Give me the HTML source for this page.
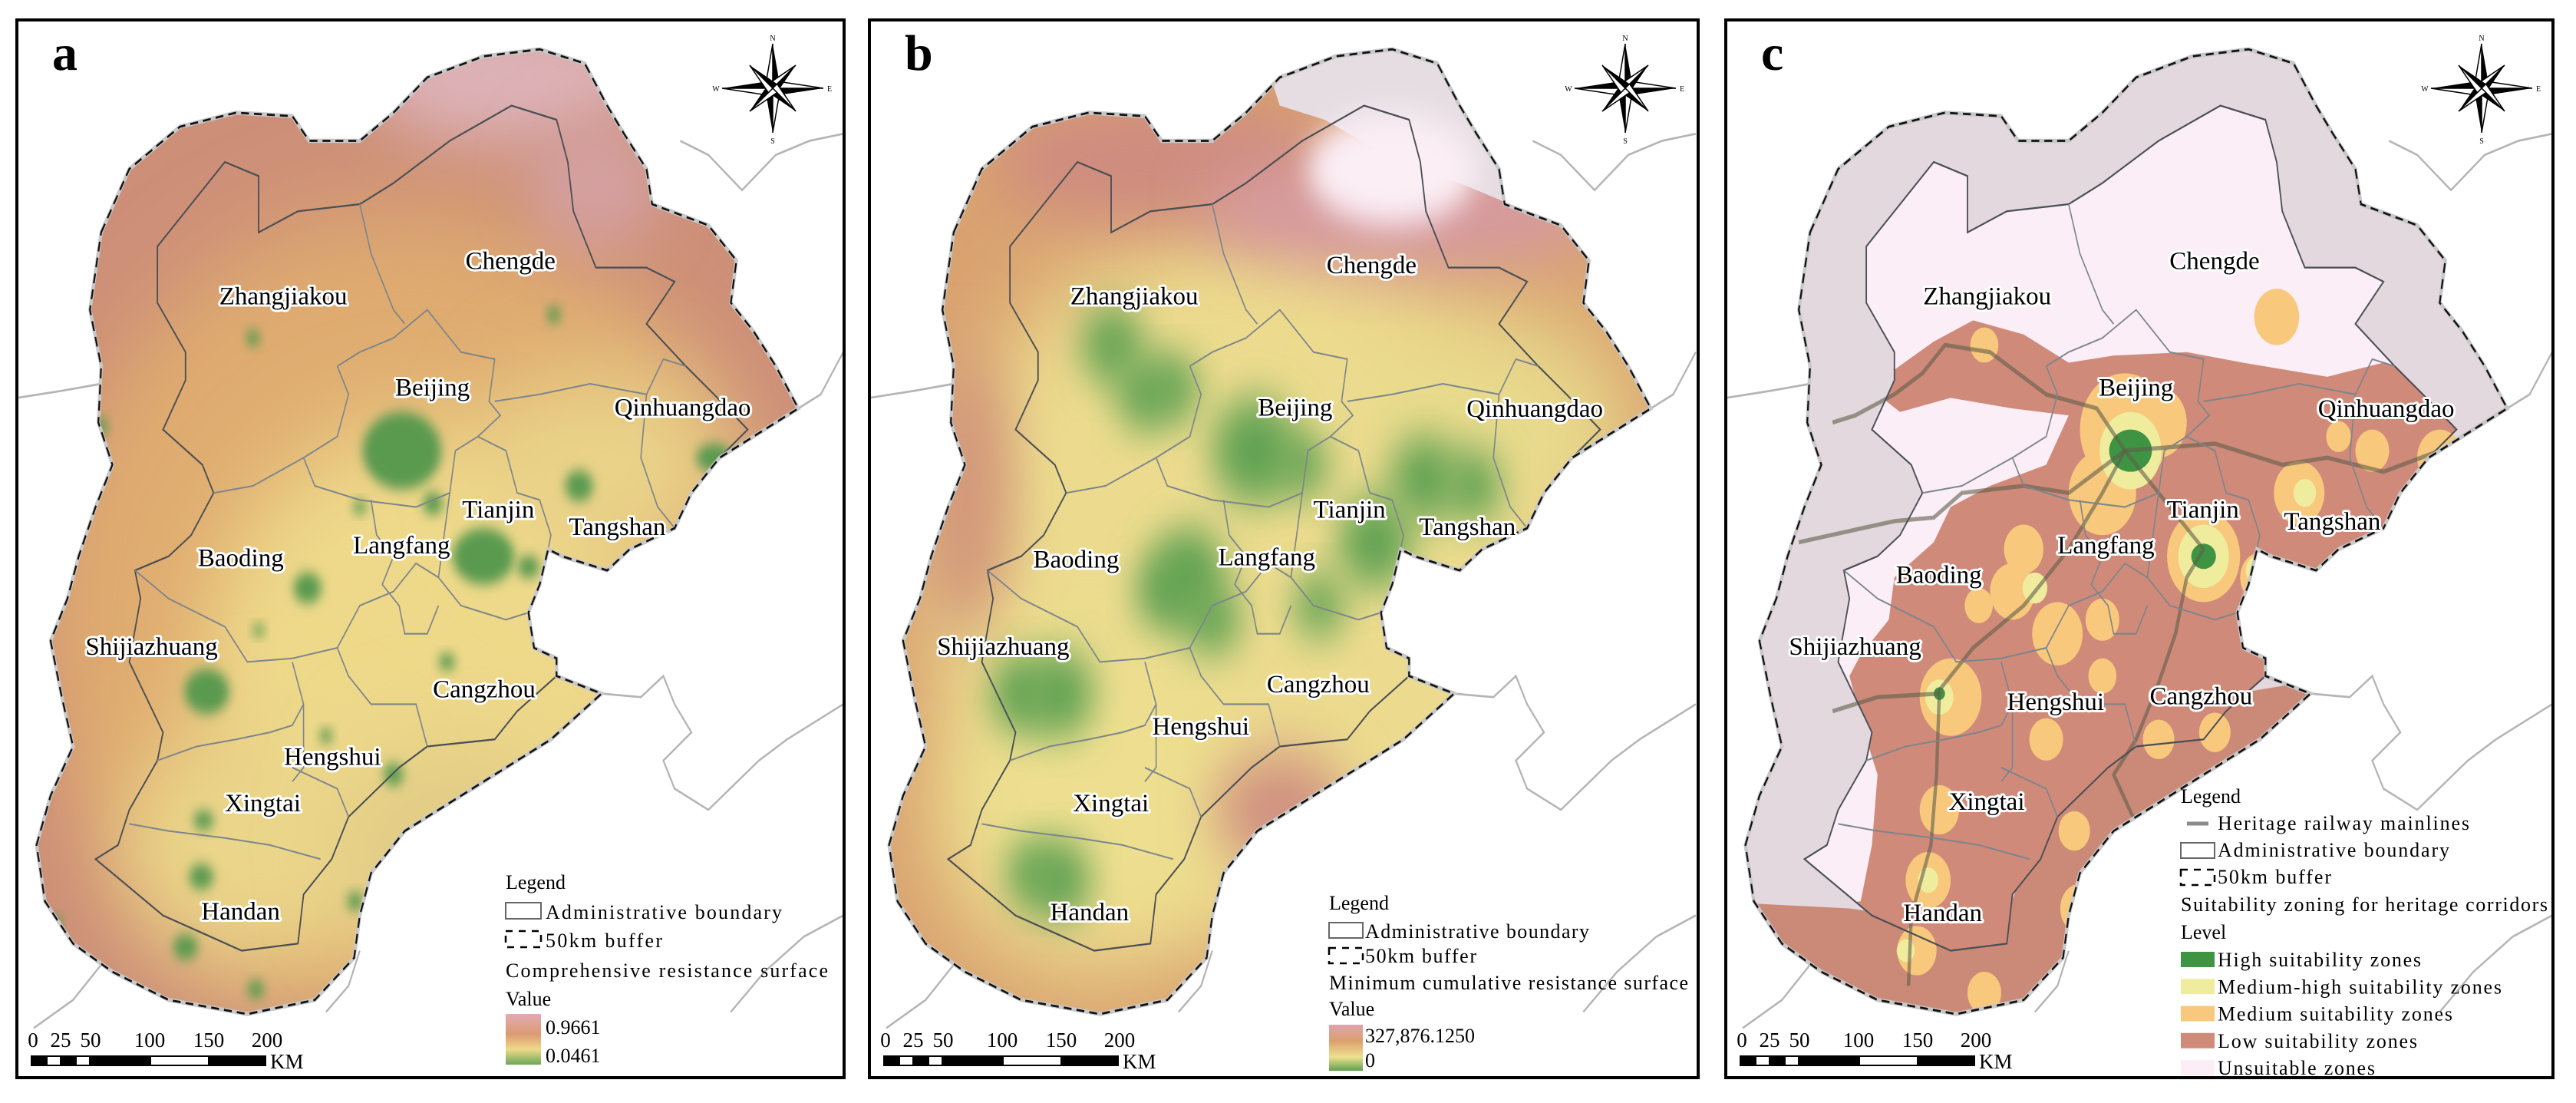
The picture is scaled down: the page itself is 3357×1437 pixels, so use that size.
<!DOCTYPE html>
<html><head><meta charset="utf-8"><style>
html,body{margin:0;padding:0;background:#fff;}
svg{display:block;font-family:"Liberation Serif",serif;}
.lbl{font-size:33px;fill:#000;stroke:#fff;stroke-width:6px;paint-order:stroke;stroke-linejoin:round;}
.leg{font-size:26px;fill:#000;}
.num{font-size:27px;fill:#000;}
</style></head><body>
<svg id="fig" width="3357" height="1437" viewBox="0 0 3357 1437" xmlns="http://www.w3.org/2000/svg">
<defs>
<filter id="b8" x="-50%" y="-50%" width="200%" height="200%"><feGaussianBlur stdDeviation="9"/></filter>
<filter id="b20" x="-50%" y="-50%" width="200%" height="200%"><feGaussianBlur stdDeviation="22"/></filter>
<filter id="b35" x="-50%" y="-50%" width="200%" height="200%"><feGaussianBlur stdDeviation="30"/></filter>
<filter id="b45" x="-50%" y="-50%" width="200%" height="200%"><feGaussianBlur stdDeviation="45"/></filter>
<filter id="b70" x="-50%" y="-50%" width="200%" height="200%"><feGaussianBlur stdDeviation="70"/></filter>
<clipPath id="bufClip" clipPathUnits="userSpaceOnUse"><polygon id="bufPolyClip"/></clipPath>
<clipPath id="provClip" clipPathUnits="userSpaceOnUse"><polygon id="provPolyClip"/></clipPath>
<linearGradient id="gradA" x1="0" y1="0" x2="0" y2="1"><stop offset="0" stop-color="#e2aab4"/><stop offset="0.4" stop-color="#dc9b72"/><stop offset="0.7" stop-color="#efd98a"/><stop offset="1" stop-color="#6aa858"/></linearGradient>
<linearGradient id="gradB" x1="0" y1="0" x2="0" y2="1"><stop offset="0" stop-color="#e0a3ad"/><stop offset="0.35" stop-color="#dba06e"/><stop offset="0.7" stop-color="#eee08e"/><stop offset="1" stop-color="#5fa052"/></linearGradient>
</defs>
</svg>
<script>
const NS='http://www.w3.org/2000/svg';
const svg=document.getElementById('fig');
function mk(tag,attrs,parent){const e=document.createElementNS(NS,tag);for(const k in attrs)e.setAttribute(k,attrs[k]);(parent||svg).appendChild(e);return e;}
const pts=a=>a.map(p=>p.join(',')).join(' ');

const bufferPts=[[180,330],[230,240],[320,180],[420,160],[520,165],[550,200],[640,200],[700,160],[760,110],[860,80],[960,70],[1040,90],[1080,150],[1110,190],[1150,240],[1160,290],[1260,320],[1310,370],[1300,430],[1340,470],[1380,520],[1420,580],[1340,620],[1280,650],[1230,700],[1200,750],[1120,780],[1080,810],[1000,790],[975,780],[960,830],[940,870],[950,920],[990,935],[990,960],[1070,985],[980,1050],[900,1090],[800,1140],[720,1180],[660,1240],[640,1300],[630,1360],[560,1420],[440,1440],[300,1420],[200,1380],[130,1340],[80,1280],[65,1200],[90,1130],[130,1060],[110,990],[90,910],[120,850],[140,790],[170,720],[200,660],[175,600],[180,520],[160,440]];
const provPts=[[280,350],[400,230],[460,250],[460,330],[530,300],[640,290],[700,260],[800,200],[910,150],[990,170],[1010,230],[1020,300],[1060,380],[1150,380],[1200,400],[1150,460],[1220,520],[1270,560],[1330,610],[1280,650],[1230,700],[1200,750],[1120,780],[1080,810],[1000,790],[975,780],[960,830],[940,870],[950,920],[990,935],[990,960],[920,1010],[880,1050],[760,1060],[710,1090],[620,1160],[590,1220],[540,1270],[530,1340],[430,1350],[290,1300],[170,1220],[210,1200],[230,1150],[280,1080],[290,1040],[230,940],[250,850],[240,810],[300,790],[340,760],[380,700],[360,660],[290,610],[330,540],[330,500],[280,430]];
const innerLines=[
[[640,290],[660,360],[700,440],[720,460]],
[[600,520],[640,500],[700,480],[760,440],[820,500],[880,510],[870,570],[890,590],[850,620],[810,640],[800,700],[740,720],[640,710],[560,690],[540,650],[600,620],[620,560],[600,520]],
[[880,570],[960,560],[1050,545],[1150,560],[1180,510],[1220,520]],
[[850,620],[900,640],[920,700],[960,710],[980,760],[975,780]],
[[800,700],[790,760],[780,820],[820,860],[900,880],[940,870]],
[[1150,560],[1140,650],[1170,720],[1200,750]],
[[380,700],[450,690],[540,650]],
[[240,810],[300,850],[400,890],[440,940],[520,935],[600,920],[640,860],[700,840],[740,800],[780,820]],
[[660,710],[670,760],[700,790],[680,830],[710,860],[720,900],[760,900],[780,860]],
[[280,1080],[350,1060],[420,1050],[480,1040],[520,1030],[540,1000],[520,940]],
[[600,920],[620,960],[660,1000],[740,1000],[760,1060]],
[[540,1000],[540,1090],[520,1110]],
[[230,1170],[300,1180],[400,1190],[480,1200],[570,1220]],
[[520,1090],[600,1120],[620,1160]]];
const outerLines=[
[[30,565],[110,555],[180,545],[260,510],[290,490]],
[[60,1460],[130,1420],[170,1380],[200,1350]],
[[1210,200],[1260,220],[1320,270],[1380,220],[1440,200],[1500,190]],
[[1420,580],[1460,560],[1500,500]],
[[1070,985],[1140,990],[1180,960],[1200,1000],[1230,1040],[1180,1080],[1200,1120],[1260,1150],[1350,1080],[1400,1050],[1500,1000]],
[[640,1350],[620,1400],[580,1437]],
[[1300,1437],[1360,1380],[1430,1330],[1500,1300]]];

document.getElementById('bufPolyClip').setAttribute('points',pts(bufferPts));
document.getElementById('provPolyClip').setAttribute('points',pts(provPts));

const panels=[{id:'a',x:22,w:1078,off:0},{id:'b',x:1133,w:1080,off:1111},{id:'c',x:2249,w:1078,off:2227}];

const blobsA=[[715,640,70,55],[770,715,18,16],[860,790,55,40],[940,805,20,16],[1030,690,25,22],[1270,650,32,20],[547,835,25,22],[450,480,12,12],[985,447,12,12],[368,982,40,32],[795,940,15,12],[580,1045,12,10],[700,1100,18,16],[362,1165,18,14],[358,1245,22,18],[330,1345,22,18],[455,1405,15,13],[632,1280,15,13],[180,605,12,12],[100,1310,10,10],[640,720,12,10],[460,895,10,9]];
const blobsB=[[462,490,55],[520,560,50],[570,550,45],[715,640,75],[800,660,45],[1017,680,60],[1104,690,50],[929,770,65],[600,810,60],[560,840,55],[640,880,50],[830,860,45],[300,985,55],[370,985,60],[320,1240,45],[370,1250,55]];
const medC=[[1010,450,40],[740,610,80],[700,700,60],[800,600,50],[620,900,45],[540,840,40],[560,780,35],[430,990,55],[880,790,65],[980,820,35],[1050,700,45],[1300,650,40],[1180,640,30],[700,880,30],[600,1050,30],[800,1050,28],[900,1040,28],[410,1150,35],[390,1250,40],[370,1350,35],[490,1410,30],[650,1180,28],[750,1260,28],[660,1290,35],[490,490,25],[1120,620,22],[950,1120,22],[700,960,25],[480,860,25]];
const mhC=[[750,640,55],[880,790,45],[1060,700,20],[1310,650,18],[410,990,25],[580,835,22],[390,1250,18],[660,1290,14],[350,1350,16],[975,810,20]];
const greenC=[[750,640,38,30],[880,790,22,18],[410,985,10,9]];
const rails=[
[[740,640],[700,700],[640,780],[560,860],[470,920],[410,980],[405,1100],[395,1200],[360,1300],[355,1400]],
[[160,770],[330,740],[400,735],[450,700],[560,690],[640,700],[740,640]],
[[740,640],[690,580],[600,560],[500,500],[420,490],[380,530],[330,560],[260,590],[220,600]],
[[740,640],[900,630],[1020,660],[1100,650],[1200,670],[1300,640],[1440,570]],
[[740,640],[820,720],[880,780],[850,820],[830,900],[800,970],[760,1050],[720,1100],[760,1170]],
[[410,985],[300,990],[220,1010]]];

const cities=['Zhangjiakou','Chengde','Beijing','Qinhuangdao','Tianjin','Tangshan','Langfang','Baoding','Shijiazhuang','Cangzhou','Hengshui','Xingtai','Handan'];
const posA=[[390,432],[828,382],[703,562],[1093,590],[822,735],[1012,760],[628,786],[352,804],[152,930],[770,990],[505,1086],[400,1152],[358,1306]];
const posB=[[380,432],[865,388],[735,590],[1130,592],[840,735],[1040,760],[660,803],[310,806],[128,930],[752,983],[535,1043],[385,1152],[342,1307]];
const posC=[[415,432],[850,382],[725,562],[1112,592],[845,735],[1052,752],[652,786],[367,828],[178,930],[815,1000],[563,1008],[460,1150],[380,1308]];
const posConv=[(p)=>[p[0]/1.365,p[1]/1.09],(p)=>[1133+p[0]/1.452,p[1]/1.09],(p)=>[2200+p[0]/1.355,p[1]/1.09]];
const allPos=[posA,posB,posC];

panels.forEach((P,i)=>{
  const root=mk('g',{});
  
  
  const g=mk('g',{transform:`translate(${P.off},0) scale(${1/1.365},${1/1.09})`},root);
  outerLines.forEach(l=>{const e=mk('polyline',{points:pts(l),fill:'none',stroke:'#b5b5b5','stroke-width':3},g);});
  const cl=mk('g',{'clip-path':'url(#bufClip)'},g);
  if(P.id==='a'){
    mk('rect',{x:0,y:0,width:1600,height:1500,fill:'#cd8f78'},cl);
    mk('ellipse',{cx:720,cy:880,rx:640,ry:580,fill:'#dfac70',filter:'url(#b70)'},cl);
    mk('ellipse',{cx:760,cy:950,rx:400,ry:350,fill:'#eed98a',filter:'url(#b70)'},cl);
    mk('ellipse',{cx:1080,cy:660,rx:220,ry:130,fill:'#ead48a',filter:'url(#b70)'},cl);
    mk('ellipse',{cx:450,cy:1200,rx:240,ry:170,fill:'#ead68a',filter:'url(#b70)'},cl);
    mk('ellipse',{cx:820,cy:1200,rx:220,ry:150,fill:'#e2cc86',filter:'url(#b70)'},cl);
    mk('ellipse',{cx:900,cy:110,rx:250,ry:90,fill:'#ddb2b8',filter:'url(#b45)'},cl);
    mk('ellipse',{cx:1060,cy:260,rx:120,ry:90,fill:'#d4a0a0',filter:'url(#b45)'},cl);
    blobsA.forEach(b=>{const e=mk('ellipse',{cx:b[0],cy:b[1],rx:b[2],ry:b[3],fill:'#5a9a50',filter:'url(#b8)'},cl);});
  } else if(P.id==='b'){
    mk('rect',{x:0,y:0,width:1600,height:1500,fill:'#d9a270'},cl);
    mk('ellipse',{cx:700,cy:820,rx:560,ry:500,fill:'#ecdb8e',filter:'url(#b70)'},cl);
    mk('ellipse',{cx:420,cy:1150,rx:280,ry:230,fill:'#eddf8f',filter:'url(#b70)'},cl);
    mk('ellipse',{cx:1150,cy:620,rx:240,ry:170,fill:'#e8da8c',filter:'url(#b70)'},cl);
    mk('ellipse',{cx:550,cy:230,rx:300,ry:90,fill:'#cf8c80',filter:'url(#b45)'},cl);
    mk('ellipse',{cx:200,cy:700,rx:90,ry:200,fill:'#d39a7a',filter:'url(#b45)'},cl);
    mk('ellipse',{cx:760,cy:1150,rx:120,ry:80,fill:'#cf8e80',filter:'url(#b45)'},cl);
    blobsB.forEach(b=>{const e=mk('circle',{cx:b[0],cy:b[1],r:b[2],fill:'#62a352',filter:'url(#b35)'},cl);});
    mk('ellipse',{cx:980,cy:300,rx:360,ry:80,fill:'#d69aa0',filter:'url(#b45)'},cl);
    mk('polygon',{points:pts([[700,0],[1300,0],[1300,320],[1200,300],[1080,260],[950,220],[840,170],[760,150]]),fill:'#e6dde3'},cl);
    mk('ellipse',{cx:960,cy:240,rx:150,ry:80,fill:'#fbeef5',filter:'url(#b20)'},cl);
  } else {
    mk('rect',{x:0,y:0,width:1600,height:1500,fill:'#e2d8de'},cl);
    mk('polygon',{points:pts([[900,990],[1200,950],[1200,1500],[0,1500],[0,1280],[250,1290],[520,1320],[600,1150],[720,1080]]),fill:'#cb8a77'},cl);
    const pv=mk('g',{'clip-path':'url(#provClip)'},cl);
    mk('rect',{x:0,y:0,width:1600,height:1500,fill:'#d08a7a'},pv);
    mk('polygon',{points:pts([[0,0],[1600,0],[1600,520],[1300,540],[1200,515],[1100,535],[950,515],[850,500],[720,505],[640,515],[560,475],[470,455],[400,485],[330,525],[300,560],[340,585],[430,565],[540,580],[640,590],[600,660],[500,690],[430,720],[400,770],[330,820],[320,880],[270,930],[250,960],[280,1050],[300,1100],[290,1200],[270,1280],[0,1300]]),fill:'#fbeef7'},pv);
    const gb=mk('g',{},cl);
    medC.forEach(b=>{const e=mk('circle',{cx:b[0],cy:b[1],r:b[2],fill:'#f8c87c'},gb);});
    mhC.forEach(b=>{const e=mk('circle',{cx:b[0],cy:b[1],r:b[2],fill:'#f0ec9e'},gb);});
    greenC.forEach(b=>{const e=mk('ellipse',{cx:b[0],cy:b[1],rx:b[2],ry:b[3],fill:'#3f9443'},gb);});
    rails.forEach(r=>{const e=mk('polyline',{points:pts(r),fill:'none',stroke:'#5f5f4a','stroke-opacity':0.6,'stroke-width':6,'stroke-linejoin':'round'},gb);});
  }
  const pb=mk('polygon',{points:pts(provPts),fill:'none',stroke:'#4a4f55','stroke-width':2.5},g);
  
  innerLines.forEach(l=>{const e=mk('polyline',{points:pts(l),fill:'none',stroke:'#7c858c','stroke-width':2.2},g);});
  mk('polygon',{points:pts(bufferPts),fill:'none',stroke:'#c8c8c8','stroke-width':6},g);
  const bb=mk('polygon',{points:pts(bufferPts),fill:'none',stroke:'#111','stroke-width':3,'stroke-dasharray':'14 9'},g);
  

  const fr=mk('rect',{x:P.x,y:26,width:P.w,height:1378,fill:'none',stroke:'#000','stroke-width':4},root);
  
  const t=mk('text',{x:P.x+46,y:91,'font-size':66,'font-weight':'bold'},root);t.textContent=P.id;
  
  const cx=P.x+985,cy=115;
  const cg=mk('g',{},root);
  const dirs=[[0,-58],[66,0],[0,58],[-66,0],[30,-30],[30,30],[-30,30],[-30,-30]];
  dirs.forEach(d=>{const len=Math.hypot(d[0],d[1]);const w=len>50?10:8;const nx=-d[1]/len*w,ny=d[0]/len*w;
    mk('polygon',{points:`${cx},${cy} ${cx+d[0]},${cy+d[1]} ${cx+nx},${cy+ny}`,fill:'#000'},cg);
    mk('polygon',{points:`${cx},${cy} ${cx+d[0]},${cy+d[1]} ${cx-nx},${cy-ny}`,fill:'#fff',stroke:'#000','stroke-width':1.5},cg);});
  [['N',0,-62],['E',74,4],['S',0,72],['W',-74,4]].forEach(a=>{const e=mk('text',{x:cx+a[1],y:cy+a[2],'font-size':10,'text-anchor':'middle'},cg);e.textContent=a[0];});
  const sg=mk('g',{},root);
  const sb=[19,39,57,77,95,174,250,324];
  for(let k=0;k<sb.length-1;k++)mk('rect',{x:P.x+sb[k],y:1376,width:sb[k+1]-sb[k],height:12,fill:k%2?'#fff':'#000',stroke:'#000','stroke-width':2},sg);
  [['0',21],['25',57],['50',96],['100',173],['150',250],['200',326]].forEach(s=>{const e=mk('text',{x:P.x+s[1],y:1364,'text-anchor':'middle'},sg);e.setAttribute('class','num');e.textContent=s[0];});
  const km=mk('text',{x:P.x+330,y:1392},sg);km.setAttribute('class','num');km.textContent='KM';
  allPos[i].forEach((p,j)=>{const q=posConv[i](p);const e=mk('text',{x:q[0].toFixed(1),y:q[1].toFixed(1)},root);e.setAttribute('class','lbl');e.textContent=cities[j];
    });
});

function legText(x,y,s,len,parent){const e=mk('text',{x:x,y:y},parent);e.setAttribute('class','leg');if(len)e.setAttribute('textLength',len);e.textContent=s;return e;}
function boxAdmin(x,y,w,h,p){mk('rect',{x:x,y:y,width:w,height:h,fill:'#fff',stroke:'#666','stroke-width':2},p);}
function boxBuf(x,y,w,h,p){mk('rect',{x:x,y:y,width:w,height:h,fill:'#fff',stroke:'#000','stroke-width':2.5,'stroke-dasharray':'9 8'},p);}
const la=mk('g',{});
legText(659,1158,'Legend',null,la);
boxAdmin(659,1176,46,21,la);legText(711,1197,'Administrative boundary',308,la);
boxBuf(659,1213,46,21,la);legText(711,1234,'50km buffer',152,la);
legText(659,1273,'Comprehensive resistance surface',420,la);
legText(659,1310,'Value',null,la);
mk('rect',{x:659,y:1321,width:46,height:66,fill:'url(#gradA)'},la);
legText(711,1347,'0.9661',null,la);legText(711,1384,'0.0461',null,la);
const lb=mk('g',{});
legText(1732,1185,'Legend',null,lb);
boxAdmin(1732,1202,44,20,lb);legText(1779,1222,'Administrative boundary',292,lb);
boxBuf(1732,1235,44,20,lb);legText(1779,1254,'50km buffer',145,lb);
legText(1732,1289,'Minimum cumulative resistance surface',468,lb);
legText(1732,1323,'Value',null,lb);
mk('rect',{x:1732,y:1335,width:44,height:60,fill:'url(#gradB)'},lb);
legText(1779,1358,'327,876.1250',null,lb);legText(1779,1390,'0',null,lb);
const lc=mk('g',{});
const cx0=2842,tx=2890;
legText(cx0,1046,'Legend',null,lc);
mk('line',{x1:2850,y1:1073,x2:2878,y2:1073,stroke:'#8a8a8a','stroke-width':5},lc);legText(tx,1081,'Heritage railway mainlines',328,lc);
boxAdmin(cx0,1098,44,20,lc);legText(tx,1116,'Administrative boundary',302,lc);
boxBuf(cx0,1133,44,20,lc);legText(tx,1151,'50km buffer',148,lc);
legText(cx0,1187,'Suitability zoning for heritage corridors',478,lc);
legText(cx0,1223,'Level',null,lc);
[['#3f9443','High suitability zones',265],['#f0ec9e','Medium-high suitability zones',370],['#f8c87c','Medium suitability zones',306],['#d08a7a','Low suitability zones',260],['#fbeef7','Unsuitable zones',205]].forEach((r,k)=>{
  const y=1259+k*35.25;mk('rect',{x:cx0,y:y-19,width:44,height:20,fill:r[0]},lc);legText(tx,y,r[1],r[2],lc);});
</script>
</body></html>
